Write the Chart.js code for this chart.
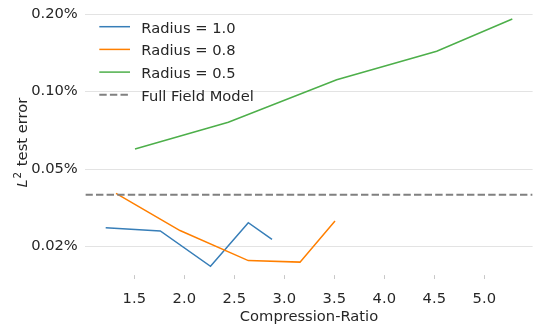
<!DOCTYPE html>
<html>
<head>
<meta charset="utf-8">
<script src="https://cdn.jsdelivr.net/npm/chart.js@4.4.1/dist/chart.umd.min.js"></script>
<style>
    html, body { margin: 0; padding: 0; background: #fff; }
    canvas { display: block; }
</style>
</head>
<body>
<canvas id="errorChart" width="539" height="332"></canvas>
<script>
// compression ratio vs L2 test error (in %), one pair of arrays per radius
const ratioR10 = [1.214, 1.76, 2.262, 2.64, 2.877];
const errorR10 = [0.0295, 0.0287, 0.0209, 0.0309, 0.0266];

const ratioR08 = [1.317, 1.957, 2.64, 3.157, 3.507];
const errorR08 = [0.0402, 0.0288, 0.0220, 0.0217, 0.0314];

const ratioR05 = [1.507, 2.44, 3.524, 4.524, 5.28];
const errorR05 = [0.0598, 0.0760, 0.1113, 0.1436, 0.1918];

const fullFieldError = 0.0397;

const xRange = [1.011, 5.483];
const yRange = [0.01872, 0.2142];
const xTicks = [1.5, 2.0, 2.5, 3.0, 3.5, 4.0, 4.5, 5.0];
const yTicks = [0.025, 0.05, 0.1, 0.2];
const yTickLabels = ['0.02%', '0.05%', '0.10%', '0.20%'];

const seriesLabels = ['Radius = 1.0', 'Radius = 0.8', 'Radius = 0.5', 'Full Field Model'];

const FONT = 'DejaVu Sans';
const FONT_SIZE = 14.7;
const TEXT_COLOR = '#262626';

Chart.defaults.font.family = FONT;
Chart.defaults.font.size = FONT_SIZE;
Chart.defaults.color = TEXT_COLOR;

function toPoints(xs, ys) {
    return xs.map((x, i) => ({ x: x, y: ys[i] }));
}

// matplotlib style legend, inside the top left of the plot, no frame
const innerLegend = {
    id: 'innerLegend',
    afterDraw(chart) {
        const ctx = chart.ctx;
        ctx.save();
        ctx.font = FONT_SIZE + 'px "' + FONT + '"';
        ctx.textBaseline = 'alphabetic';
        ctx.textAlign = 'left';
        chart.data.datasets.forEach((ds, i) => {
            const y = 26.7 + i * 22.7;
            ctx.beginPath();
            ctx.strokeStyle = ds.borderColor;
            ctx.lineWidth = ds.borderWidth;
            ctx.setLineDash(ds.borderDash || []);
            ctx.moveTo(99.3, y);
            ctx.lineTo(130, y);
            ctx.stroke();
            ctx.setLineDash([]);
            ctx.fillStyle = TEXT_COLOR;
            ctx.fillText(ds.label, 141.3, y + 6);
        });
        ctx.restore();
    }
};

// y title with an italic L and a raised 2
const yTitle = {
    id: 'yTitle',
    afterDraw(chart) {
        const { ctx, chartArea } = chart;
        const cy = (chartArea.top + chartArea.bottom) / 2;
        ctx.save();
        ctx.translate(27, cy);
        ctx.rotate(-Math.PI / 2);
        ctx.fillStyle = TEXT_COLOR;
        ctx.textBaseline = 'alphabetic';
        ctx.textAlign = 'left';

        ctx.font = 'italic ' + FONT_SIZE + 'px "' + FONT + '"';
        const wL = ctx.measureText('L').width;
        ctx.font = (FONT_SIZE * 0.7) + 'px "' + FONT + '"';
        const w2 = ctx.measureText('2').width;
        ctx.font = FONT_SIZE + 'px "' + FONT + '"';
        const wRest = ctx.measureText(' test error').width;

        let x = -(wL + w2 + wRest + 2) / 2;
        ctx.font = 'italic ' + FONT_SIZE + 'px "' + FONT + '"';
        ctx.fillText('L', x, 0);
        x += wL + 1;
        ctx.font = (FONT_SIZE * 0.7) + 'px "' + FONT + '"';
        ctx.fillText('2', x, -6);
        x += w2 + 1;
        ctx.font = FONT_SIZE + 'px "' + FONT + '"';
        ctx.fillText(' test error', x, 0);
        ctx.restore();
    }
};

new Chart(document.getElementById('errorChart'), {
    type: 'line',
    data: {
        datasets: [
            {
                label: seriesLabels[0],
                data: toPoints(ratioR10, errorR10),
                borderColor: '#377eb8',
                borderWidth: 1.5,
                order: 4
            },
            {
                label: seriesLabels[1],
                data: toPoints(ratioR08, errorR08),
                borderColor: '#ff7f00',
                borderWidth: 1.5,
                order: 3
            },
            {
                label: seriesLabels[2],
                data: toPoints(ratioR05, errorR05),
                borderColor: '#4daf4a',
                borderWidth: 1.5,
                order: 2
            },
            {
                label: seriesLabels[3],
                data: toPoints(xRange, [fullFieldError, fullFieldError]),
                borderColor: '#808080',
                borderWidth: 2,
                borderDash: [7.4, 3.2],
                order: 1
            }
        ]
    },
    options: {
        responsive: false,
        animation: false,
        events: [],
        layout: { padding: { left: 0, right: 6.4, top: 6.7, bottom: 0 } },
        elements: {
            point: { radius: 0 },
            line: { tension: 0, fill: false }
        },
        plugins: {
            legend: { display: false },
            tooltip: { enabled: false }
        },
        scales: {
            x: {
                type: 'linear',
                bounds: 'data',
                min: xRange[0],
                max: xRange[1],
                border: { display: false },
                grid: {
                    drawOnChartArea: false,
                    drawTicks: true,
                    tickLength: -3.5,
                    tickColor: '#c8c8c8',
                    tickWidth: 1
                },
                ticks: {
                    autoSkip: false,
                    maxRotation: 0,
                    padding: 15.3,
                    color: TEXT_COLOR,
                    callback: v => v.toFixed(1)
                },
                title: {
                    display: true,
                    text: 'Compression-Ratio',
                    color: TEXT_COLOR,
                    padding: { top: 0, bottom: 6 }
                },
                afterBuildTicks: scale => {
                    scale.ticks = xTicks.map(v => ({ value: v }));
                },
                afterFit: scale => {
                    scale.height = 332 - 278.6;
                    scale.paddingLeft = 0;
                    scale.paddingRight = 0;
                }
            },
            y: {
                type: 'logarithmic',
                bounds: 'data',
                min: yRange[0],
                max: yRange[1],
                border: { display: false },
                grid: {
                    color: '#e3e3e3',
                    lineWidth: 1,
                    drawTicks: false
                },
                ticks: {
                    autoSkip: false,
                    padding: 7.6,
                    color: TEXT_COLOR,
                    callback: v => yTickLabels[yTicks.indexOf(v)]
                },
                afterBuildTicks: scale => {
                    scale.ticks = yTicks.map(v => ({ value: v }));
                },
                afterFit: scale => {
                    scale.width = 85.4;
                    scale.paddingTop = 0;
                    scale.paddingBottom = 0;
                }
            }
        }
    },
    plugins: [innerLegend, yTitle]
});
</script>
</body>
</html>
